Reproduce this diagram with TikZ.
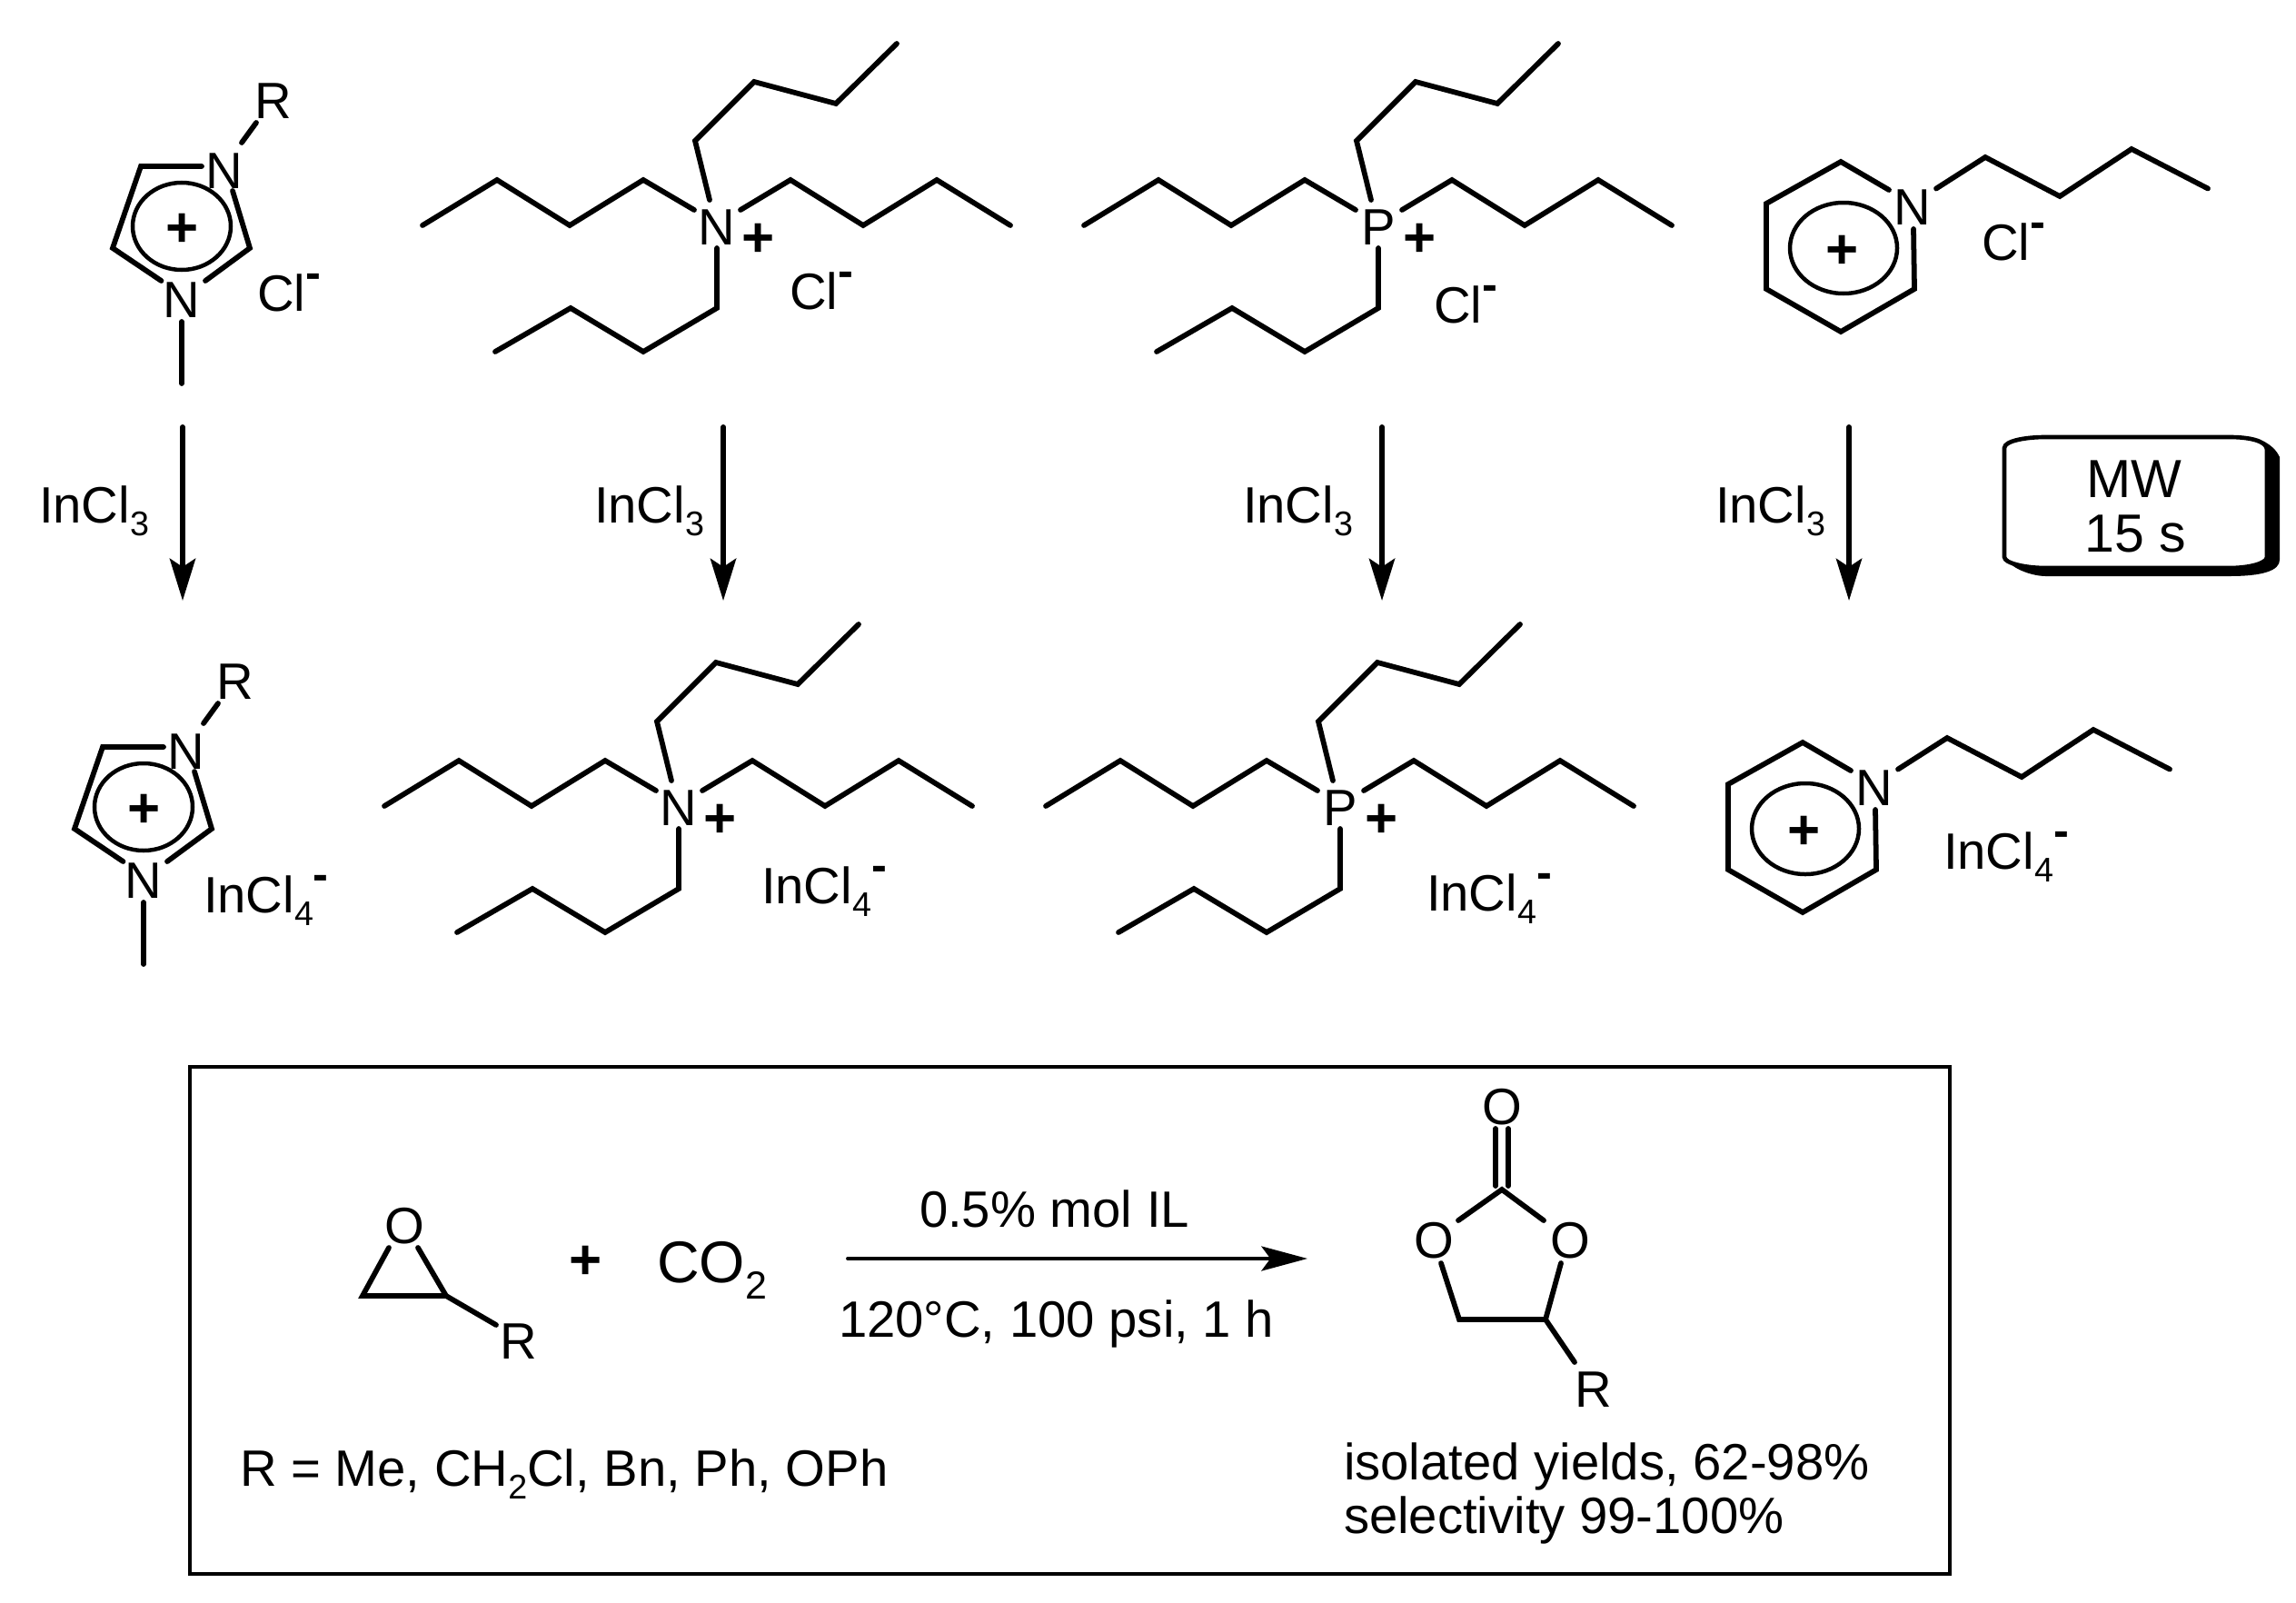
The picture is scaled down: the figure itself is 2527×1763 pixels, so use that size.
\documentclass[tikz,border=0pt]{standalone}
\usepackage{fontspec}
\setmainfont{Liberation Sans}
\usetikzlibrary{arrows.meta}
\newcommand\chemfont{\fontsize{20}{23}\selectfont}
\newcommand\sbb[1]{\raisebox{-5.3pt}{\fontsize{13.4}{13.4}\selectfont #1}}
\newcommand\mns{\raisebox{8.7pt}{\fontsize{18}{18}\selectfont\bfseries -}}
\tikzset{
  txt/.style={inner sep=0pt,outer sep=0pt,anchor=base west,font=\chemfont},
  atom/.style={txt,anchor=base},
  plussign/.style={inner sep=0pt,outer sep=0pt,anchor=base,font=\fontsize{22}{24}\selectfont\bfseries},
  bond/.style={line width=2.05pt,line cap=round,line join=miter},
  ringl/.style={line width=1.6pt},
  frame/.style={line width=1.65pt},
  rxn/.style={line width=2.1pt,line cap=round,-{Stealth[length=16.4pt,width=10pt,inset=3.2pt]}},
  rxnh/.style={line width=1.4pt,line cap=round,-{Stealth[length=18pt,width=9.6pt,inset=3.5pt]}},
}
\newcommand\imidcat[1]{%
  \node[atom] (#1Nt) at (247,207) {N};
  \node[atom] (#1Nb) at (200,349) {N};
  \node[atom] (#1R) at (301,130) {R};
  \draw[bond] (222,183) -- (155,183) -- (124,273) -- (177.5,309);
  \draw[bond] (256,210) -- (275,273) -- (226,309);
  \draw[bond] (200,354) -- (200,422);
  \draw[bond] (266,157) -- (282,135);
  \draw[ringl] (200,249) ellipse [x radius=54,y radius=48];
  \node[plussign] (#1p) at (201,271) {+};
}
\newcommand\quatcat[2]{%
  \node[atom] (#1X) at (789,269) {#2};
  \node[plussign] (#1p) at (835,282) {+};
  \draw[bond] (465,248) -- (547,198) -- (627,248) -- (708,198) -- (764,231);
  \draw[bond] (815,231) -- (870,198) -- (950,248) -- (1031,198) -- (1112,248);
  \draw[bond] (781,220) -- (765,155) -- (830,90) -- (920,114) -- (987,48);
  \draw[bond] (789,273) -- (789,339) -- (708,387) -- (628,339) -- (545,387);
}
\newcommand\pyrcat[1]{%
  \node[atom] (#1N) at (2105,247) {N};
  \draw[bond] (2079,209) -- (2026,178) -- (1944,224) -- (1944,318) -- (2026,365) -- (2107,318) -- (2106,252);
  \draw[bond] (2131,207.5) -- (2185,173) -- (2267,216) -- (2346,164) -- (2430,207.5);
  \draw[ringl] (2029,273) ellipse [x radius=59,y radius=50];
  \node[plussign] (#1p) at (2028,295) {+};
}
\begin{document}
\begin{tikzpicture}[x=0.0125cm,y=-0.0125cm]
\useasboundingbox (0,0) rectangle (2527,1763);
% top row
\imidcat{a}
\node[txt] (aCl) at (283,342) {Cl\mns};
\quatcat{b}{N}
\node[txt] (bCl) at (869,340) {Cl\mns};
\begin{scope}[shift={(728,0)}]
  \quatcat{c}{P}
\end{scope}
\node[txt] (cCl) at (1578,355) {Cl\mns};
\pyrcat{d}
\node[txt] (dCl) at (2181,286) {Cl\mns};
% reaction arrows
\foreach \n/\ax/\lx in {e/201/43,f/796/654,g/1521/1368,h/2035/1888}{
  \coordinate (\n s) at (\ax,470);
  \coordinate (\n t) at (\ax,661);
  \draw[rxn] (\n s) -- (\n t);
  \node[txt] (\n l) at (\lx,575) {InCl\sbb{3}};
}
% microwave box
\fill (2206,613) .. controls (2215,628) and (2240,634) .. (2251,634) -- (2454,634)
  .. controls (2490,634) and (2509,628) .. (2509,616) -- (2509,503)
  .. controls (2505,495) and (2500,490) .. (2490,485) -- cycle;
\draw[frame,fill=white] (2206,493) .. controls (2206,485) and (2230,481) .. (2251,481) -- (2454,481)
  .. controls (2475,481) and (2495,485) .. (2495,495) -- (2495,613)
  .. controls (2495,620) and (2475,625) .. (2454,625) -- (2251,625)
  .. controls (2230,625) and (2206,620) .. (2206,613) -- cycle;
\node[atom,font=\fontsize{21}{24}\selectfont] (mw) at (2349,547) {MW};
\node[atom,font=\fontsize{21}{24}\selectfont] (mwt) at (2350,607) {15 s};
% second row
\begin{scope}[shift={(-42,639)}]
  \imidcat{i}
  \quatcat{j}{N}
  \pyrcat{l}
\end{scope}
\begin{scope}[shift={(686,639)}]
  \quatcat{k}{P}
\end{scope}
\node[txt] (iX) at (224,1004) {InCl\sbb{4}\mns};
\node[txt] (jX) at (838,994) {InCl\sbb{4}\mns};
\node[txt] (kX) at (1570,1002) {InCl\sbb{4}\mns};
\node[txt] (lX) at (2139,956) {InCl\sbb{4}\mns};
% bottom panel
\draw[frame] (209,1174) rectangle (2146,1732);
\node[atom] (eO) at (445,1368) {O};
\node[atom] (eR) at (571,1495) {R};
\draw[bond] (428,1373) -- (399,1426) -- (491,1426) -- (460,1373);
\draw[bond] (491,1426) -- (546,1458);
\node[plussign] (pl) at (645,1407) {+};
\node[txt,font=\fontsize{23}{26}\selectfont] (co) at (723,1411) {CO\raisebox{-6.4pt}{\fontsize{15.3}{16}\selectfont 2}};
\coordinate (ra) at (933,1385);
\coordinate (rb) at (1439,1385);
\draw[rxnh] (ra) -- (rb);
\node[txt] (top) at (1012,1350) {0.5\% mol IL};
\node[txt] (bot) at (923,1471) {120°C, 100 psi, 1 h};
\node[txt] (rlist) at (264,1635) {R = Me, CH\sbb{2}Cl, Bn, Ph, OPh};
\node[atom] (pO) at (1653,1237) {O};
\node[atom] (pL) at (1578,1384) {O};
\node[atom] (pM) at (1728,1384) {O};
\node[atom] (pR) at (1754,1548) {R};
\draw[bond] (1646,1242) -- (1646,1305);
\draw[bond] (1660,1242) -- (1660,1305);
\draw[bond] (1605,1343) -- (1653,1309) -- (1699,1343);
\draw[bond] (1586,1390) -- (1606,1452) -- (1701,1452) -- (1718,1390);
\draw[bond] (1701,1452) -- (1733,1499);
\node[txt] (y1) at (1479,1628) {isolated yields, 62-98\%};
\node[txt] (y2) at (1479,1687) {selectivity 99-100\%};
\end{tikzpicture}
\end{document}
